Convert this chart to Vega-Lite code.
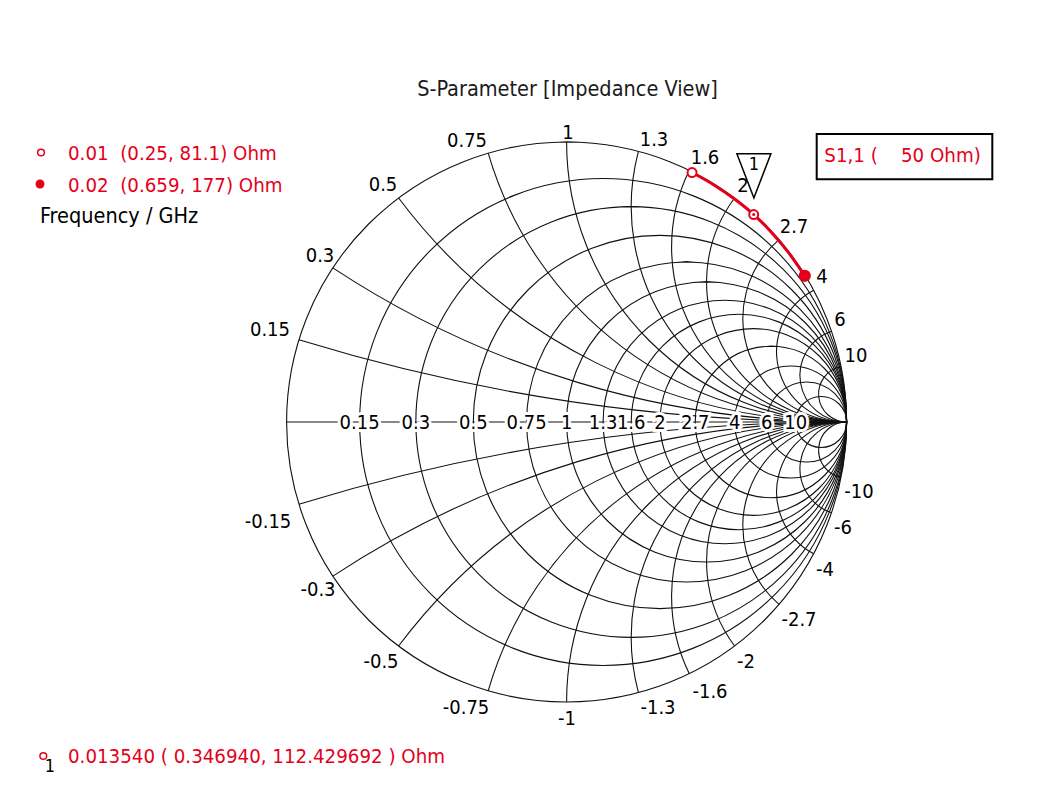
{
  "$schema": "https://vega.github.io/schema/vega-lite/v6.json",
  "width": 1054,
  "height": 789,
  "padding": 0,
  "autosize": {"type": "none"},
  "background": "white",
  "config": {"view": {"stroke": null}},
  "datasets": {
    "rc": [
      {"r": 0, "cx": 0, "cy": 0, "rad": 1},
      {"r": 0.15, "cx": 0.130435, "cy": 0, "rad": 0.869565},
      {"r": 0.3, "cx": 0.230769, "cy": 0, "rad": 0.769231},
      {"r": 0.5, "cx": 0.333333, "cy": 0, "rad": 0.666667},
      {"r": 0.75, "cx": 0.428571, "cy": 0, "rad": 0.571429},
      {"r": 1, "cx": 0.5, "cy": 0, "rad": 0.5},
      {"r": 1.3, "cx": 0.565217, "cy": 0, "rad": 0.434783},
      {"r": 1.6, "cx": 0.615385, "cy": 0, "rad": 0.384615},
      {"r": 2, "cx": 0.666667, "cy": 0, "rad": 0.333333},
      {"r": 2.7, "cx": 0.72973, "cy": 0, "rad": 0.27027},
      {"r": 4, "cx": 0.8, "cy": 0, "rad": 0.2},
      {"r": 6, "cx": 0.857143, "cy": 0, "rad": 0.142857},
      {"r": 10, "cx": 0.909091, "cy": 0, "rad": 0.090909}
    ],
    "xa": [
      {"x": 0.15, "cx": 1, "cy": 6.666667, "rad": 6.666667, "t1": 3.141593, "t2": 3.439373},
      {"x": 0.3, "cx": 1, "cy": 3.333333, "rad": 3.333333, "t1": 3.141593, "t2": 3.724508},
      {"x": 0.5, "cx": 1, "cy": 2, "rad": 2, "t1": 3.141593, "t2": 4.068888},
      {"x": 0.75, "cx": 1, "cy": 1.333333, "rad": 1.333333, "t1": 3.141593, "t2": 4.428595},
      {"x": 1, "cx": 1, "cy": 1, "rad": 1, "t1": 3.141593, "t2": 4.712389},
      {"x": 1.3, "cx": 1, "cy": 0.769231, "rad": 0.769231, "t1": 3.141593, "t2": 4.971795},
      {"x": 1.6, "cx": 1, "cy": 0.625, "rad": 0.625, "t1": 3.141593, "t2": 5.165987},
      {"x": 2, "cx": 1, "cy": 0.5, "rad": 0.5, "t1": 3.141593, "t2": 5.35589},
      {"x": 2.7, "cx": 1, "cy": 0.37037, "rad": 0.37037, "t1": 3.141593, "t2": 5.573775},
      {"x": 4, "cx": 1, "cy": 0.25, "rad": 0.25, "t1": 3.141593, "t2": 5.793228},
      {"x": 6, "cx": 1, "cy": 0.166667, "rad": 0.166667, "t1": 3.141593, "t2": 5.952889},
      {"x": 10, "cx": 1, "cy": 0.1, "rad": 0.1, "t1": 3.141593, "t2": 6.083848},
      {"x": -0.15, "cx": 1, "cy": -6.666667, "rad": 6.666667, "t1": -0.29778, "t2": 0},
      {"x": -0.3, "cx": 1, "cy": -3.333333, "rad": 3.333333, "t1": -0.582915, "t2": 0},
      {"x": -0.5, "cx": 1, "cy": -2, "rad": 2, "t1": -0.927295, "t2": 0},
      {"x": -0.75, "cx": 1, "cy": -1.333333, "rad": 1.333333, "t1": -1.287002, "t2": 0},
      {"x": -1, "cx": 1, "cy": -1, "rad": 1, "t1": -1.570796, "t2": 0},
      {"x": -1.3, "cx": 1, "cy": -0.769231, "rad": 0.769231, "t1": -1.830202, "t2": 0},
      {"x": -1.6, "cx": 1, "cy": -0.625, "rad": 0.625, "t1": -2.024394, "t2": 0},
      {"x": -2, "cx": 1, "cy": -0.5, "rad": 0.5, "t1": -2.214297, "t2": 0},
      {"x": -2.7, "cx": 1, "cy": -0.37037, "rad": 0.37037, "t1": -2.432182, "t2": 0},
      {"x": -4, "cx": 1, "cy": -0.25, "rad": 0.25, "t1": -2.651635, "t2": 0},
      {"x": -6, "cx": 1, "cy": -0.166667, "rad": 0.166667, "t1": -2.811296, "t2": 0},
      {"x": -10, "cx": 1, "cy": -0.1, "rad": 0.1, "t1": -2.942255, "t2": 0}
    ],
    "rl": [
      {"t": "0.15", "gx": -0.73913, "gy": 0},
      {"t": "0.3", "gx": -0.538462, "gy": 0},
      {"t": "0.5", "gx": -0.333333, "gy": 0},
      {"t": "0.75", "gx": -0.142857, "gy": 0},
      {"t": "1", "gx": 0, "gy": 0},
      {"t": "1.3", "gx": 0.130435, "gy": 0},
      {"t": "1.6", "gx": 0.230769, "gy": 0},
      {"t": "2", "gx": 0.333333, "gy": 0},
      {"t": "2.7", "gx": 0.459459, "gy": 0},
      {"t": "4", "gx": 0.6, "gy": 0},
      {"t": "6", "gx": 0.714286, "gy": 0},
      {"t": "10", "gx": 0.818182, "gy": 0}
    ],
    "xl": [
      {"t": "0.15", "gx": -1.0593, "gy": 0.3286},
      {"t": "0.3", "gx": -0.8807, "gy": 0.5929},
      {"t": "0.5", "gx": -0.6557, "gy": 0.8464},
      {"t": "0.75", "gx": -0.3557, "gy": 1.0036},
      {"t": "1", "gx": 0.005, "gy": 1.0321},
      {"t": "1.3", "gx": 0.3121, "gy": 1.0071},
      {"t": "1.6", "gx": 0.4943, "gy": 0.9429},
      {"t": "2", "gx": 0.63, "gy": 0.8429},
      {"t": "2.7", "gx": 0.8121, "gy": 0.6964},
      {"t": "4", "gx": 0.9121, "gy": 0.5179},
      {"t": "6", "gx": 0.9764, "gy": 0.3643},
      {"t": "10", "gx": 1.0336, "gy": 0.2357},
      {"t": "-0.15", "gx": -1.0664, "gy": -0.3571},
      {"t": "-0.3", "gx": -0.8879, "gy": -0.6},
      {"t": "-0.5", "gx": -0.6629, "gy": -0.8571},
      {"t": "-0.75", "gx": -0.3593, "gy": -1.0214},
      {"t": "-1", "gx": 0.0014, "gy": -1.0607},
      {"t": "-1.3", "gx": 0.3264, "gy": -1.0214},
      {"t": "-1.6", "gx": 0.5121, "gy": -0.9643},
      {"t": "-2", "gx": 0.6407, "gy": -0.8571},
      {"t": "-2.7", "gx": 0.83, "gy": -0.7071},
      {"t": "-4", "gx": 0.9229, "gy": -0.5286},
      {"t": "-6", "gx": 0.9871, "gy": -0.3786},
      {"t": "-10", "gx": 1.0443, "gy": -0.25}
    ],
    "trace": [
      {"gx": 0.448, "gy": 0.891},
      {"gx": 0.5306, "gy": 0.8441},
      {"gx": 0.601, "gy": 0.7955},
      {"gx": 0.6682, "gy": 0.7409},
      {"gx": 0.7304, "gy": 0.6787},
      {"gx": 0.79, "gy": 0.6083},
      {"gx": 0.8506, "gy": 0.5222}
    ]
  },
  "layer": [
    {
      "data": {"name": "rc"},
      "mark": {"type": "arc", "filled": false, "stroke": "#111111", "strokeWidth": 1.1},
      "encoding": {
        "x": {"field": "cx", "type": "quantitative", "scale": {"domain": [-2.02357, 1.74071], "nice": false, "zero": false}, "axis": null},
        "y": {"field": "cy", "type": "quantitative", "scale": {"domain": [-1.31071, 1.50714], "nice": false, "zero": false}, "axis": null},
        "radius": {"field": "rad", "type": "quantitative", "scale": {"type": "linear", "domain": [0, 1], "range": [0, 280], "zero": true, "nice": false}, "legend": null},
        "radius2": {"field": "rad"},
        "theta": {"value": 0},
        "theta2": {"value": 6.2832}
      }
    },
    {
      "data": {"name": "xa"},
      "mark": {"type": "arc", "filled": false, "stroke": "#111111", "strokeWidth": 1.1},
      "encoding": {
        "x": {"field": "cx", "type": "quantitative", "scale": {"domain": [-2.02357, 1.74071], "nice": false, "zero": false}, "axis": null},
        "y": {"field": "cy", "type": "quantitative", "scale": {"domain": [-1.31071, 1.50714], "nice": false, "zero": false}, "axis": null},
        "radius": {"field": "rad", "type": "quantitative", "scale": {"type": "linear", "domain": [0, 1], "range": [0, 280], "zero": true, "nice": false}, "legend": null},
        "radius2": {"field": "rad"},
        "theta": {"field": "t1", "type": "quantitative", "scale": null, "stack": null},
        "theta2": {"field": "t2"}
      }
    },
    {
      "data": {"values": [{"a": -1, "b": 1, "c": 0}]},
      "mark": {"type": "rule", "stroke": "#111111", "strokeWidth": 1.1},
      "encoding": {
        "x": {"field": "a", "type": "quantitative", "scale": {"domain": [-2.02357, 1.74071], "nice": false, "zero": false}, "axis": null},
        "x2": {"field": "b"},
        "y": {"field": "c", "type": "quantitative", "scale": {"domain": [-1.31071, 1.50714], "nice": false, "zero": false}, "axis": null}
      }
    },
    {
      "data": {"name": "rl"},
      "mark": {"type": "text", "font": "DejaVu Sans Condensed, DejaVu Sans", "fontSize": 20, "align": "center", "baseline": "middle", "dy": 1, "stroke": "white", "strokeWidth": 6, "fill": "white"},
      "encoding": {
        "x": {"field": "gx", "type": "quantitative", "scale": {"domain": [-2.02357, 1.74071], "nice": false, "zero": false}, "axis": null},
        "y": {"field": "gy", "type": "quantitative", "scale": {"domain": [-1.31071, 1.50714], "nice": false, "zero": false}, "axis": null},
        "text": {"field": "t"}
      }
    },
    {
      "data": {"name": "rl"},
      "mark": {"type": "text", "font": "DejaVu Sans Condensed, DejaVu Sans", "fontSize": 20, "align": "center", "baseline": "middle", "dy": 1, "fill": "black"},
      "encoding": {
        "x": {"field": "gx", "type": "quantitative", "scale": {"domain": [-2.02357, 1.74071], "nice": false, "zero": false}, "axis": null},
        "y": {"field": "gy", "type": "quantitative", "scale": {"domain": [-1.31071, 1.50714], "nice": false, "zero": false}, "axis": null},
        "text": {"field": "t"}
      }
    },
    {
      "data": {"name": "xl"},
      "mark": {"type": "text", "font": "DejaVu Sans Condensed, DejaVu Sans", "fontSize": 20, "align": "center", "baseline": "middle", "fill": "black"},
      "encoding": {
        "x": {"field": "gx", "type": "quantitative", "scale": {"domain": [-2.02357, 1.74071], "nice": false, "zero": false}, "axis": null},
        "y": {"field": "gy", "type": "quantitative", "scale": {"domain": [-1.31071, 1.50714], "nice": false, "zero": false}, "axis": null},
        "text": {"field": "t"}
      }
    },
    {
      "data": {"name": "trace"},
      "mark": {"type": "line", "stroke": "#e4001b", "strokeWidth": 3, "interpolate": "monotone"},
      "encoding": {
        "x": {"field": "gx", "type": "quantitative", "scale": {"domain": [-2.02357, 1.74071], "nice": false, "zero": false}, "axis": null},
        "y": {"field": "gy", "type": "quantitative", "scale": {"domain": [-1.31071, 1.50714], "nice": false, "zero": false}, "axis": null}
      }
    },
    {
      "data": {"values": [{"gx": 0.448, "gy": 0.891}, {"gx": 0.6682, "gy": 0.7409}]},
      "mark": {"type": "point", "shape": "circle", "filled": true, "fill": "white", "stroke": "#e4001b", "strokeWidth": 2, "size": 81, "opacity": 1},
      "encoding": {
        "x": {"field": "gx", "type": "quantitative", "scale": {"domain": [-2.02357, 1.74071], "nice": false, "zero": false}, "axis": null},
        "y": {"field": "gy", "type": "quantitative", "scale": {"domain": [-1.31071, 1.50714], "nice": false, "zero": false}, "axis": null}
      }
    },
    {
      "data": {"values": [{"gx": 0.6682, "gy": 0.7409}, {"gx": -1.8689, "gy": -1.1929}]},
      "mark": {"type": "point", "shape": "circle", "filled": true, "fill": "#e4001b", "size": 9, "opacity": 1},
      "encoding": {
        "x": {"field": "gx", "type": "quantitative", "scale": {"domain": [-2.02357, 1.74071], "nice": false, "zero": false}, "axis": null},
        "y": {"field": "gy", "type": "quantitative", "scale": {"domain": [-1.31071, 1.50714], "nice": false, "zero": false}, "axis": null}
      }
    },
    {
      "data": {"values": [{"gx": 0.8506, "gy": 0.5222}]},
      "mark": {"type": "point", "shape": "circle", "filled": true, "fill": "#e4001b", "size": 150, "opacity": 1},
      "encoding": {
        "x": {"field": "gx", "type": "quantitative", "scale": {"domain": [-2.02357, 1.74071], "nice": false, "zero": false}, "axis": null},
        "y": {"field": "gy", "type": "quantitative", "scale": {"domain": [-1.31071, 1.50714], "nice": false, "zero": false}, "axis": null}
      }
    },
    {
      "data": {"values": [{"gx": 0.6689, "gy": 0.8793}]},
      "mark": {"type": "point", "shape": "M-1,-1.3L1,-1.3L0,1.3Z", "filled": false, "stroke": "black", "strokeWidth": 1.5, "size": 1156, "opacity": 1},
      "encoding": {
        "x": {"field": "gx", "type": "quantitative", "scale": {"domain": [-2.02357, 1.74071], "nice": false, "zero": false}, "axis": null},
        "y": {"field": "gy", "type": "quantitative", "scale": {"domain": [-1.31071, 1.50714], "nice": false, "zero": false}, "axis": null}
      }
    },
    {
      "data": {"values": [{"t": "1", "gx": 0.6693, "gy": 0.9161}, {"t": "1", "gx": -1.845, "gy": -1.2321}]},
      "mark": {"type": "text", "font": "DejaVu Sans Condensed, DejaVu Sans", "fontSize": 18, "align": "center", "baseline": "middle", "fill": "black"},
      "encoding": {
        "x": {"field": "gx", "type": "quantitative", "scale": {"domain": [-2.02357, 1.74071], "nice": false, "zero": false}, "axis": null},
        "y": {"field": "gy", "type": "quantitative", "scale": {"domain": [-1.31071, 1.50714], "nice": false, "zero": false}, "axis": null},
        "text": {"field": "t"}
      }
    },
    {
      "data": {"values": [{"gx": -1.8771, "gy": 0.9625}, {"gx": -1.8689, "gy": -1.1929}]},
      "mark": {"type": "point", "shape": "circle", "filled": true, "fill": "white", "stroke": "#e4001b", "strokeWidth": 1.5, "size": 45, "opacity": 1},
      "encoding": {
        "x": {"field": "gx", "type": "quantitative", "scale": {"domain": [-2.02357, 1.74071], "nice": false, "zero": false}, "axis": null},
        "y": {"field": "gy", "type": "quantitative", "scale": {"domain": [-1.31071, 1.50714], "nice": false, "zero": false}, "axis": null}
      }
    },
    {
      "data": {"values": [{"gx": -1.8807, "gy": 0.85}]},
      "mark": {"type": "point", "shape": "circle", "filled": true, "fill": "#e4001b", "size": 81, "opacity": 1},
      "encoding": {
        "x": {"field": "gx", "type": "quantitative", "scale": {"domain": [-2.02357, 1.74071], "nice": false, "zero": false}, "axis": null},
        "y": {"field": "gy", "type": "quantitative", "scale": {"domain": [-1.31071, 1.50714], "nice": false, "zero": false}, "axis": null}
      }
    },
    {
      "data": {"values": [
        {"t": "0.01\u00a0\u00a0(0.25, 81.1) Ohm", "gx": -1.7807, "gy": 0.9589},
        {"t": "0.02\u00a0\u00a0(0.659, 177) Ohm", "gx": -1.7807, "gy": 0.8429},
        {"t": "0.013540 ( 0.346940, 112.429692 ) Ohm", "gx": -1.7807, "gy": -1.1964},
        {"t": "S1,1 (\u00a0\u00a0\u00a0\u00a050 Ohm)", "gx": 0.9204, "gy": 0.95}
      ]},
      "mark": {"type": "text", "font": "DejaVu Sans Condensed, DejaVu Sans", "fontSize": 20.3, "align": "left", "baseline": "middle", "fill": "#e4001b"},
      "encoding": {
        "x": {"field": "gx", "type": "quantitative", "scale": {"domain": [-2.02357, 1.74071], "nice": false, "zero": false}, "axis": null},
        "y": {"field": "gy", "type": "quantitative", "scale": {"domain": [-1.31071, 1.50714], "nice": false, "zero": false}, "axis": null},
        "text": {"field": "t"}
      }
    },
    {
      "data": {"values": [{"t": "Frequency / GHz", "gx": -1.8807, "gy": 0.7321}]},
      "mark": {"type": "text", "font": "DejaVu Sans Condensed, DejaVu Sans", "fontSize": 21.5, "align": "left", "baseline": "middle", "fill": "black"},
      "encoding": {
        "x": {"field": "gx", "type": "quantitative", "scale": {"domain": [-2.02357, 1.74071], "nice": false, "zero": false}, "axis": null},
        "y": {"field": "gy", "type": "quantitative", "scale": {"domain": [-1.31071, 1.50714], "nice": false, "zero": false}, "axis": null},
        "text": {"field": "t"}
      }
    },
    {
      "data": {"values": [{"t": "S-Parameter [Impedance View]", "gx": 0.0032, "gy": 1.1857}]},
      "mark": {"type": "text", "font": "DejaVu Sans Condensed, DejaVu Sans", "fontSize": 21.5, "align": "center", "baseline": "middle", "fill": "#1a1a1a"},
      "encoding": {
        "x": {"field": "gx", "type": "quantitative", "scale": {"domain": [-2.02357, 1.74071], "nice": false, "zero": false}, "axis": null},
        "y": {"field": "gy", "type": "quantitative", "scale": {"domain": [-1.31071, 1.50714], "nice": false, "zero": false}, "axis": null},
        "text": {"field": "t"}
      }
    },
    {
      "data": {"values": [{"x1": 0.8932, "x2": 1.5204, "y1": 1.0286, "y2": 0.8668}]},
      "mark": {"type": "rect", "filled": false, "stroke": "black", "strokeWidth": 2},
      "encoding": {
        "x": {"field": "x1", "type": "quantitative", "scale": {"domain": [-2.02357, 1.74071], "nice": false, "zero": false}, "axis": null},
        "x2": {"field": "x2"},
        "y": {"field": "y1", "type": "quantitative", "scale": {"domain": [-1.31071, 1.50714], "nice": false, "zero": false}, "axis": null},
        "y2": {"field": "y2"}
      }
    }
  ]
}
